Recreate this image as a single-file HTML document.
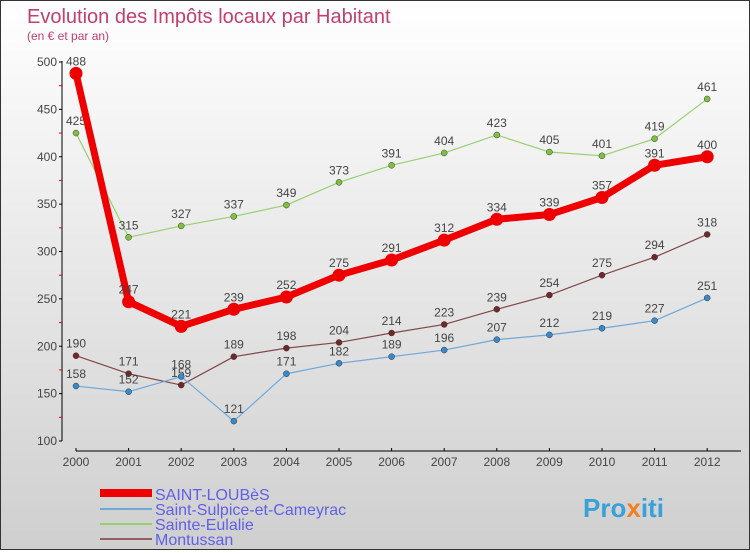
<!DOCTYPE html>
<html><head><meta charset="utf-8"><style>
body{margin:0;width:750px;height:550px;overflow:hidden;font-family:"Liberation Sans",sans-serif}
#wrap{position:relative;width:748px;height:548px;border:1px solid #333;background:linear-gradient(#ffffff,#cfcfcf)}
</style></head><body>
<div id="wrap">
<svg id="chart" width="748" height="548">
<text x="26" y="22" font-size="20" fill="#c0406a">Evolution des Impôts locaux par Habitant</text>
<text x="26" y="39" font-size="12" fill="#c0406a">(en € et par an)</text>
<g id="axes"></g><g id="series"></g>
<g>
<rect x="99" y="488" width="52" height="8" fill="#ee0000"/>
<text x="154" y="499" font-size="16" fill="#6060e8">SAINT-LOUBèS</text>
<rect x="99" y="507" width="52" height="2" fill="#6fa8d8"/>
<text x="154" y="514" font-size="16" fill="#6060e8">Saint-Sulpice-et-Cameyrac</text>
<rect x="99" y="522" width="52" height="2" fill="#99d070"/>
<text x="154" y="529" font-size="16" fill="#6060e8">Sainte-Eulalie</text>
<rect x="99" y="537" width="52" height="2" fill="#906060"/>
<text x="154" y="544" font-size="16" fill="#6060e8">Montussan</text>
</g>
<text x="582" y="516" font-size="26" font-weight="bold" fill="#3aa0d8">Pro<tspan fill="#f08020">x</tspan>iti</text>
</svg>
</div>
<script>
const years=[2000,2001,2002,2003,2004,2005,2006,2007,2008,2009,2010,2011,2012];
const yTicks=[100,150,200,250,300,350,400,450,500];
const loubes=[488,247,221,239,252,275,291,312,334,339,357,391,400];
const sulpice=[158,152,168,121,171,182,189,196,207,212,219,227,251];
const eulalie=[425,315,327,337,349,373,391,404,423,405,401,419,461];
const montussan=[190,171,159,189,198,204,214,223,239,254,275,294,318];
const NS="http://www.w3.org/2000/svg";
const X=i=>75+i*52.6;
const Y=v=>440-(v-100)*0.9475;
function mk(t,a,p){const e=document.createElementNS(NS,t);for(const k in a)e.setAttribute(k,a[k]);p.appendChild(e);return e;}
const ax=document.getElementById('axes');
let l=mk('line',{x1:61,y1:Y(500)-1,x2:61,y2:Y(100),stroke:'#000'},ax);


l=mk('line',{x1:X(0),y1:450,x2:740,y2:450,stroke:'#000'},ax);


yTicks.forEach((v,i)=>{
 mk('line',{x1:58,y1:Y(v),x2:61,y2:Y(v),stroke:'#000'},ax);
 if(i<yTicks.length-1)mk('line',{x1:58,y1:Y(v+25),x2:61,y2:Y(v+25),stroke:'#e00'},ax);
 const t=mk('text',{x:56,y:Y(v)+4,'font-size':12,fill:'#444','text-anchor':'end'},ax);t.textContent=v;
 
 
});
years.forEach((y,i)=>{
 mk('line',{x1:X(i),y1:447,x2:X(i),y2:450,stroke:'#000'},ax);
 const t=mk('text',{x:X(i),y:465,'font-size':12,fill:'#444','text-anchor':'middle'},ax);t.textContent=y;
 
 
});
const sg=document.getElementById('series');
function series(d,color,w,r,name,dot){
 const g=mk('g',{},sg);
 
 
 mk('polyline',{points:d.map((v,i)=>X(i)+','+Y(v)).join(' '),fill:'none',stroke:color,'stroke-width':w,'stroke-linejoin':'round'},g);
 d.forEach((v,i)=>{
  const c=mk('circle',{cx:X(i),cy:Y(v),r:r,fill:dot,stroke:'#333','stroke-width':r>4?0:0.5},g);
  
  
  const t=mk('text',{x:X(i),y:Y(v)-8,'font-size':12,fill:'#444','text-anchor':'middle'},g);t.textContent=v;
  
  
 });
}
series(montussan,'#804848',1.2,3,'series-montussan','#702828');
series(sulpice,'#6fa8d8',1.2,3,'series-saint-sulpice','#3a88c8');
series(eulalie,'#99d070',1.2,3,'series-sainte-eulalie','#80c040');
series(loubes,'#ee0000',7,6.5,'series-saint-loubes','#ee0000');
</script>
</body></html>
